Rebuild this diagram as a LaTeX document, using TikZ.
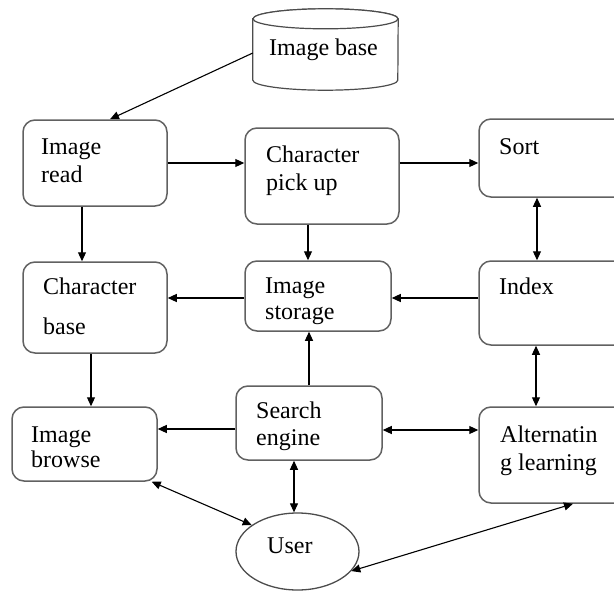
\documentclass[tikz,border=0pt]{standalone}
\usepackage{fontspec}
\setmainfont{Liberation Serif}
\usetikzlibrary{arrows.meta,shapes.geometric,calc}
\begin{document}
\begin{tikzpicture}[x=1pt,y=-1pt,
  box/.style={draw=black!62, line width=1.5pt, rounded corners=12pt, inner sep=0pt, fill=white},
  cyl/.style={draw=black!70, line width=1.2pt, fill=white},
  arr/.style={-{Triangle[length=9pt,width=8pt]}, line width=1.1pt},
  darr/.style={{Triangle[length=9pt,width=8pt]}-{Triangle[length=9pt,width=8pt]}, line width=1.1pt},
  lbl/.style={anchor=base west, inner sep=0pt, font=\fontsize{24}{28}\selectfont}]
\useasboundingbox (0,0) rectangle (614,592);
\clip (0,0) rectangle (614,592);
\fill[white] (0,0) rectangle (614,592);

% boxes
\node[box, minimum width=144pt, minimum height=86pt] (ir) at (95,163) {};
\node[box, minimum width=154pt, minimum height=96pt] (cp) at (322,176) {};
\node[box, minimum width=161pt, minimum height=78pt] (so) at (559.5,158) {};
\node[box, minimum width=144pt, minimum height=91pt] (cb) at (95,307.5) {};
\node[box, minimum width=146pt, minimum height=70pt] (is) at (318,296) {};
\node[box, minimum width=161pt, minimum height=84pt] (ix) at (559.5,303) {};
\node[box, minimum width=145pt, minimum height=74pt] (ib) at (84.5,444) {};
\node[box, minimum width=146pt, minimum height=74pt] (se) at (309,423) {};
\node[box, minimum width=161pt, minimum height=96pt] (al) at (559.5,455) {};
\node[ellipse, draw=black!70, line width=1.3pt, fill=white, minimum width=123pt, minimum height=77pt, inner sep=0pt] (us) at (297.5,551.5) {};
\node[inner sep=0pt, minimum width=145pt, minimum height=81pt] (db) at (325.5,49.5) {};

% cylinder
\draw[cyl] ($(db.north west)+(0,10)$) -- ($(db.south west)+(0,-10)$)
  arc[start angle=180, end angle=360, x radius=72.5pt, y radius=10pt]
  -- ($(db.north east)+(0,10)$)
  arc[start angle=0, end angle=180, x radius=72.5pt, y radius=10pt] -- cycle;
\draw[cyl] ($(db.north)+(0,10)$) ellipse[x radius=72.5pt, y radius=10pt];

% connectors
\coordinate (a1) at ($(db.west)+(0,3.5)$);
\draw[arr] (a1) -- ($(ir.north)+(15,0)$);
\draw[arr] (ir.east) -- (ir.east -| cp.west);
\draw[arr] (ir.east -| cp.east) -- (ir.east -| so.west);
\coordinate (a4) at ($(ir.south)+(-13,0)$);
\draw[arr] (a4) -- (a4 |- cb.north);
\coordinate (a5) at ($(cp.south)+(-14,0)$);
\draw[arr] (a5) -- (a5 |- is.north);
\coordinate (a6) at ($(so.south)+(-22.5,0)$);
\draw[darr] (a6) -- (a6 |- ix.north);
\coordinate (a7) at ($(is.west)+(0,2)$);
\draw[arr] (a7) -- (a7 -| cb.east);
\coordinate (a8) at ($(is.east)+(0,2)$);
\draw[arr] (a8 -| ix.west) -- (a8);
\coordinate (a9) at ($(cb.south)+(-4,0)$);
\draw[arr] (a9) -- (a9 |- ib.north);
\draw[arr] (se.north) -- (se.north |- is.south);
\coordinate (a11) at ($(ix.south)+(-23.5,0)$);
\draw[darr] (a11) -- (a11 |- al.north);
\coordinate (a12) at ($(se.west)+(0,6)$);
\draw[arr] (a12) -- (a12 -| ib.east);
\coordinate (a13) at ($(se.east)+(0,7)$);
\draw[darr] (a13) -- (a13 -| al.west);
\coordinate (a14) at ($(se.south)+(-15,0)$);
\draw[darr] (a14) -- (a14 |- us.north);
\draw[darr] ($(ib.south east)+(-6,0)$) -- (us.150);
\draw[darr] (us.-20) -- ($(al.south)+(13.5,0)$);

% labels
\node[lbl] (t1) at (269,55) {Image base};
\node[lbl] (t2) at (41,154) {Image};
\node[lbl] (t3) at (41,182) {read};
\node[lbl] (t4) at (266,162) {Character};
\node[lbl] (t5) at (266,190) {pick up};
\node[lbl] (t6) at (499,154) {Sort};
\node[lbl] (t7) at (43,294) {Character};
\node[lbl] (t8) at (43,334) {base};
\node[lbl] (t9) at (265,293) {Image};
\node[lbl] (t10) at (265,319) {storage};
\node[lbl] (t11) at (499,294) {Index};
\node[lbl] (t12) at (31,442) {Image};
\node[lbl] (t13) at (31,467) {browse};
\node[lbl] (t14) at (256,418) {Search};
\node[lbl] (t15) at (256,445) {engine};
\node[lbl] (t16) at (500,442) {Alternatin};
\node[lbl] (t17) at (500,470) {g learning};
\node[lbl] (t18) at (267,553) {User};
\end{tikzpicture}
\end{document}
